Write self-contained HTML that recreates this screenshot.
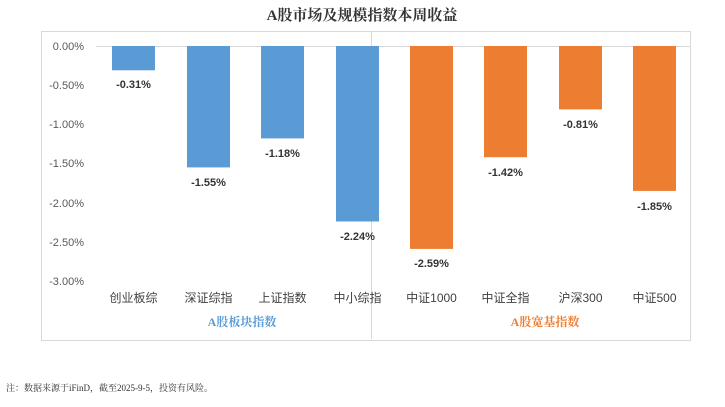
<!DOCTYPE html>
<html><head><meta charset="utf-8"><style>
body{margin:0;background:#fff;width:725px;height:402px;overflow:hidden}
svg text{font-family:"Liberation Sans","Noto Sans CJK SC",sans-serif}
svg text.serif{font-family:"Liberation Serif","Noto Serif CJK SC",serif}
</style></head><body>
<svg width="725" height="402" xmlns="http://www.w3.org/2000/svg">
<text class="serif" x="362" y="20" text-anchor="middle" font-size="15" font-weight="bold" fill="#333">A股市场及规模指数本周收益</text>
<rect x="41.5" y="31.5" width="649" height="309" fill="none" stroke="#d9d9d9"/>
<line x1="371.5" y1="31" x2="371.5" y2="339" stroke="#d9d9d9"/>
<line x1="96" y1="46.5" x2="690" y2="46.5" stroke="#d9d9d9"/>
<g font-size="11" fill="#595959" text-anchor="end">
<text x="84" y="50">0.00%</text><text x="84" y="89">-0.50%</text><text x="84" y="128">-1.00%</text><text x="84" y="167">-1.50%</text><text x="84" y="207">-2.00%</text><text x="84" y="246">-2.50%</text><text x="84" y="285">-3.00%</text>
</g>
<g font-size="11" font-weight="bold" fill="#333" text-anchor="middle">
<rect x="112" y="46" width="43" height="24.3" fill="#5b9bd5"/><text x="133.5" y="88">-0.31%</text>
<rect x="187" y="46" width="43" height="121.4" fill="#5b9bd5"/><text x="208.5" y="186">-1.55%</text>
<rect x="261" y="46" width="43" height="92.4" fill="#5b9bd5"/><text x="282.5" y="157">-1.18%</text>
<rect x="336" y="46" width="43" height="175.5" fill="#5b9bd5"/><text x="357.5" y="240">-2.24%</text>
<rect x="410" y="46" width="43" height="202.9" fill="#ed7d31"/><text x="431.5" y="267">-2.59%</text>
<rect x="484" y="46" width="43" height="111.2" fill="#ed7d31"/><text x="505.5" y="176">-1.42%</text>
<rect x="559" y="46" width="43" height="63.4" fill="#ed7d31"/><text x="580.5" y="128">-0.81%</text>
<rect x="633" y="46" width="43" height="144.9" fill="#ed7d31"/><text x="654.5" y="210">-1.85%</text>
</g>
<g font-size="12" fill="#404040" text-anchor="middle">
<text x="133.5" y="302">创业板综</text><text x="208.5" y="302">深证综指</text><text x="282.5" y="302">上证指数</text><text x="357.5" y="302">中小综指</text>
<text x="431.5" y="302">中证1000</text><text x="505.5" y="302">中证全指</text><text x="580.5" y="302">沪深300</text><text x="654.5" y="302">中证500</text>
</g>
<text class="serif" x="242" y="326" text-anchor="middle" font-size="12" font-weight="bold" fill="#5b9bd5">A股板块指数</text>
<text class="serif" x="545" y="326" text-anchor="middle" font-size="12" font-weight="bold" fill="#ed7d31">A股宽基指数</text>
<text class="serif" x="6" y="391" font-size="9" fill="#333">注：数据来源于iFinD，截至2025-9-5，投资有风险。</text>
</svg>
</body></html>
